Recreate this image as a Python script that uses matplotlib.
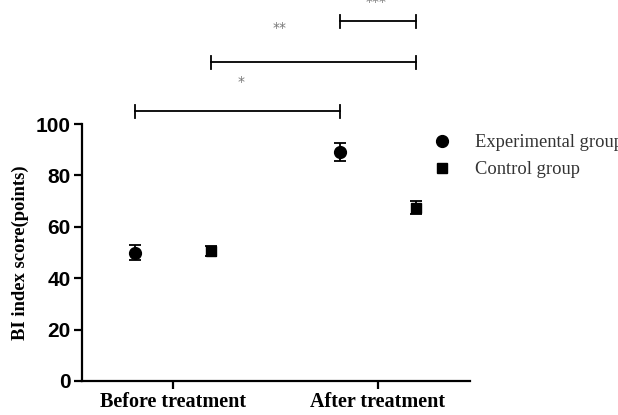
import matplotlib
matplotlib.use("Agg")
import matplotlib.pyplot as plt
from matplotlib.lines import Line2D
import numpy as np

groups = ["Before treatment", "After treatment"]
exp_mean = [50.0, 89.3]
exp_err = [3.0, 3.5]
ctrl_mean = [50.5, 67.5]
ctrl_err = [2.0, 2.5]
series_names = ["Experimental group", "Control group"]

# significance brackets: (group, side) start, (group, side) end, height, label, label pos
brackets = [
    ((0, -1), (1, -1), 105, "*", (0.33, 116.5)),
    ((0, 1), (1, 1), 124, "**", (0.52, 137.3)),
    ((1, -1), (1, 1), 140, "***", (0.99, 147.5)),
]
offset = 0.185

fig = plt.figure(figsize=(6.18, 4.15), dpi=100)
ax = fig.add_axes([0.1327, 0.082, 0.628, 0.619])

x = np.arange(len(groups))
ax.errorbar(x - offset, exp_mean, yerr=exp_err, fmt="o", color="black",
            markersize=8.5, capsize=4, elinewidth=1.3, capthick=1.3)
ax.errorbar(x + offset, ctrl_mean, yerr=ctrl_err, fmt="s", color="black",
            markersize=7.5, capsize=4, elinewidth=1.3, capthick=1.3)

for (g1, s1), (g2, s2), h, lab, (tx, ty) in brackets:
    x1 = g1 + s1 * offset
    x2 = g2 + s2 * offset
    ax.plot([x1, x2], [h, h], color="black", lw=1.3, clip_on=False)
    ax.plot([x1, x1], [h - 2.5, h + 2.5], color="black", lw=1.3, clip_on=False)
    ax.plot([x2, x2], [h - 2.5, h + 2.5], color="black", lw=1.3, clip_on=False)
    ax.text(tx, ty, lab, ha="center", va="center", fontsize=10, color="#777777",
            family="DejaVu Sans", clip_on=False)

ax.set_xlim(-0.444, 1.449)
ax.set_ylim(0, 100)
ax.set_yticks([0, 20, 40, 60, 80, 100])
ax.set_xticks(x)
ax.set_xticklabels(groups, family="Liberation Serif", fontweight="bold", fontsize=14.5)
for t in ax.get_yticklabels():
    t.set_family("Liberation Sans")
    t.set_fontweight("bold")
    t.set_fontsize(15)
ax.set_ylabel("BI index score(points)", family="Liberation Serif",
              fontweight="bold", fontsize=13.4, labelpad=5)

for side in ["top", "right"]:
    ax.spines[side].set_visible(False)
for side in ["left", "bottom"]:
    ax.spines[side].set_linewidth(1.6)
ax.tick_params(width=1.6, length=6, pad=2)

handles = [
    Line2D([], [], marker="o", color="black", linestyle="none", markersize=8.5),
    Line2D([], [], marker="s", color="black", linestyle="none", markersize=7.5),
]
leg = ax.legend(handles, series_names, loc="upper left",
                bbox_to_anchor=(0.86, 1.025), frameon=False,
                prop={"family": "Liberation Serif", "size": 13.3},
                handletextpad=1.3, labelspacing=0.55, handlelength=1.0)
for t in leg.get_texts():
    t.set_color("#333333")

fig.savefig("out.png", dpi=100)
